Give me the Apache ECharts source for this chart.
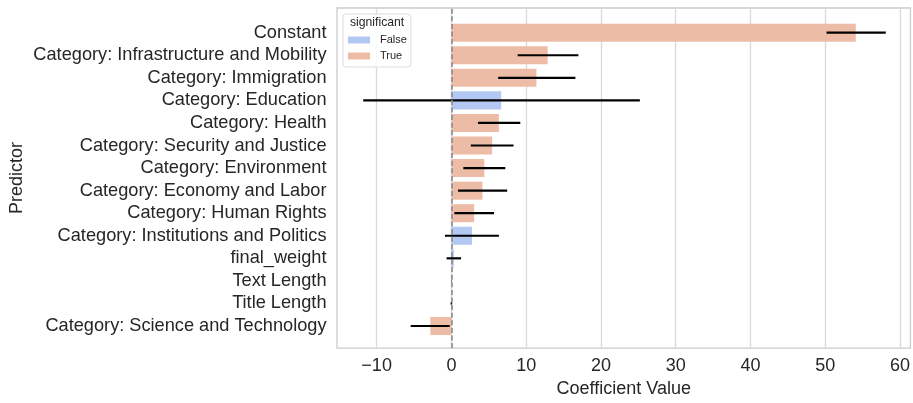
<!DOCTYPE html>
<html><head><meta charset="utf-8">
<script src="https://cdn.jsdelivr.net/npm/echarts@6/dist/echarts.min.js"></script>
<style>html,body{margin:0;padding:0;background:#fff}#c{width:913px;height:403px}</style>
</head><body><div id="c"></div>
<script>
const categories = [
  'Constant',
  'Category: Infrastructure and Mobility',
  'Category: Immigration',
  'Category: Education',
  'Category: Health',
  'Category: Security and Justice',
  'Category: Environment',
  'Category: Economy and Labor',
  'Category: Human Rights',
  'Category: Institutions and Politics',
  'final_weight',
  'Text Length',
  'Title Length',
  'Category: Science and Technology'
];
const coefficients = [53.9, 12.8, 11.3, 6.6, 6.3, 5.4, 4.35, 4.1, 3.0, 2.7, 0.28, 0.0, -0.04, -2.85];
const ciLower =      [50.0, 8.8, 6.2, -11.8, 3.5, 2.55, 1.55, 0.85, 0.36, -0.9, -0.68, -0.03, -0.14, -5.47];
const ciUpper =      [57.9, 16.9, 16.5, 25.1, 9.15, 8.25, 7.15, 7.4, 5.65, 6.3, 1.25, 0.03, 0.06, -0.27];
const significant =  [true, true, true, false, true, true, true, true, true, false, false, true, true, true];
const xTicks = [-10, 0, 10, 20, 30, 40, 50, 60];
const xMin = -15.3, xMax = 61.4;

const FONT = '"Liberation Sans", Arial, sans-serif';
const TXT = '#262626';
const chart = echarts.init(document.getElementById('c'), null, {renderer: 'canvas'});

const option = {
  backgroundColor: '#ffffff',
  animation: false,
  textStyle: {fontFamily: FONT},
  grid: [
    {left: 337, right: 1, top: 8, bottom: 53, show: true, borderColor: '#cccccc', borderWidth: 1.3, backgroundColor: 'transparent'},
    {left: 337, right: 1, top: 21.4, bottom: 65.7, show: false}
  ],
  xAxis: [
    {
      gridIndex: 0, type: 'value', min: xMin, max: xMax,
      axisLine: {show: false}, axisTick: {show: false, customValues: xTicks},
      axisLabel: {customValues: xTicks, fontSize: 18, color: TXT, margin: 9, fontFamily: FONT,
        formatter: v => (v < 0 ? '\u2212' + Math.abs(v) : String(v))},
      splitLine: {show: true, lineStyle: {color: '#d9d9d9', width: 1.3}},
      name: 'Coefficient Value', nameLocation: 'middle', nameGap: 29,
      nameTextStyle: {fontSize: 18, color: TXT, fontFamily: FONT}
    },
    {
      gridIndex: 1, type: 'value', min: xMin, max: xMax, show: false,
      splitLine: {show: false}
    }
  ],
  yAxis: [
    {
      gridIndex: 0, type: 'value', min: 0, max: 1,
      axisLine: {show: false}, axisTick: {show: false}, axisLabel: {show: false}, splitLine: {show: false},
      name: 'Predictor', nameLocation: 'middle', nameGap: 311,
      nameTextStyle: {fontSize: 18, color: TXT, fontFamily: FONT}
    },
    {
      gridIndex: 1, type: 'category', data: categories, inverse: true,
      axisLine: {show: false}, axisTick: {show: false}, splitLine: {show: false},
      axisLabel: {fontSize: 18.2, color: TXT, margin: 10.5, fontFamily: FONT, interval: 0}
    }
  ],
  legend: {
    data: ['False', 'True'], orient: 'vertical', left: 343, top: 14,
    itemWidth: 22, itemHeight: 7, itemGap: 4, icon: 'rect',
    padding: [20, 4, 5, 5],
    backgroundColor: 'rgba(255,255,255,0.85)', borderColor: '#dddddd', borderWidth: 1, borderRadius: 3,
    textStyle: {fontSize: 11, color: TXT, fontFamily: FONT, lineHeight: 12, padding: [0, 0, 0, 5]}
  },
  title: {
    text: 'significant', left: 350, top: 17, padding: 0,
    textStyle: {fontSize: 12.2, fontWeight: 'normal', color: TXT, fontFamily: FONT}
  },
  series: [
    {
      name: 'False', type: 'bar', xAxisIndex: 1, yAxisIndex: 1, z: 2,
      barWidth: '80%', barGap: '-100%',
      itemStyle: {color: '#b3c9f3'},
      data: coefficients.map((v, i) => significant[i] ? '-' : v)
    },
    {
      name: 'True', type: 'bar', xAxisIndex: 1, yAxisIndex: 1, z: 2,
      barWidth: '80%', barGap: '-100%',
      itemStyle: {color: '#edbca7'},
      data: coefficients.map((v, i) => significant[i] ? v : '-')
    },
    {
      name: 'zero', type: 'scatter', xAxisIndex: 0, yAxisIndex: 0, z: 3, data: [], silent: true,
      markLine: {
        silent: true, symbol: ['none', 'none'], label: {show: false},
        lineStyle: {color: '#8a8a8a', type: [5, 2.6], width: 1.6},
        data: [{xAxis: 0}]
      }
    },
    {
      name: 'ci', type: 'custom', xAxisIndex: 1, yAxisIndex: 1, z: 4, silent: true,
      data: categories.map((c, i) => [ciLower[i], ciUpper[i], i]),
      encode: {x: [0, 1], y: 2},
      renderItem: function (params, api) {
        const a = api.coord([api.value(0), api.value(2)]);
        const b = api.coord([api.value(1), api.value(2)]);
        return {
          type: 'line',
          shape: {x1: a[0], y1: a[1], x2: b[0], y2: b[1]},
          style: {stroke: '#000000', lineWidth: 2.2}
        };
      }
    }
  ]
};
chart.setOption(option);
</script>
</body></html>
